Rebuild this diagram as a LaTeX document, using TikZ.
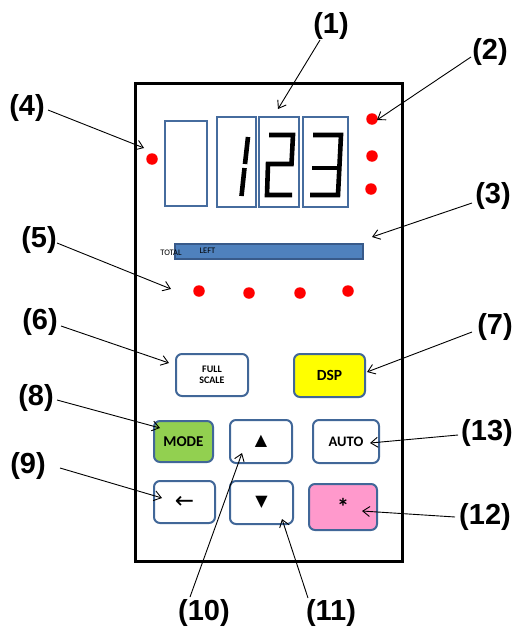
\documentclass[tikz,border=0pt]{standalone}
\usepackage{fontspec}
\setmainfont{Liberation Sans}
\newfontfamily\calfont{Carlito}
\newfontfamily\symfont{DejaVu Sans}
\usetikzlibrary{arrows.meta}
\definecolor{btnblue}{RGB}{65,103,152}
\definecolor{boxblue}{RGB}{70,108,158}
\definecolor{barfill}{RGB}{79,129,189}
\definecolor{barline}{RGB}{56,90,138}
\definecolor{btngreen}{RGB}{146,208,80}
\definecolor{btnyellow}{RGB}{255,255,0}
\definecolor{btnpink}{RGB}{255,153,204}
\definecolor{ledred}{RGB}{255,0,0}
\tikzset{
  lbl/.style={font=\fontsize{29}{29}\selectfont\bfseries, inner sep=0pt},
  conn/.style={line width=0.9pt, -{Straight Barb[length=7pt,width=10pt,line width=0.9pt]}},
  btn/.style={draw=btnblue, line width=2pt, rounded corners=6pt, inner sep=0pt, font=\calfont\bfseries},
  digbox/.style={draw=boxblue, line width=2.2pt, inner sep=0pt},
  led/.style={circle, fill=ledred, inner sep=0pt, minimum size=11.5pt},
  seg/.style={line width=4.6pt, line cap=butt, line join=miter},
  small/.style={font=\calfont\fontsize{8.5}{8.5}\selectfont, inner sep=0pt}
}
\begin{document}
\begin{tikzpicture}[x=1pt,y=-1pt]
\useasboundingbox (0,0) rectangle (518,629);
% panel
\draw[line width=3pt] (135,83) rectangle (402,561);
% digit boxes
\node[digbox, minimum width=42pt, minimum height=85pt] (d1) at (186,163.5) {};
\node[digbox, minimum width=39pt, minimum height=90pt] (d2) at (236.5,162) {};
\node[digbox, minimum width=40pt, minimum height=90pt] (d3) at (279,162) {};
\node[digbox, minimum width=45pt, minimum height=90pt] (d4) at (325.5,162) {};
% digits
\draw[seg] (248,137) -- (245,164);
\draw[seg] (244.5,168) -- (241.5,196);
\draw[seg] (269,135) -- (293,135) -- (291.5,164) -- (268,164) -- (267,195) -- (292,195);
\draw[seg] (313,135) -- (341,135) -- (338,195) -- (310,195);
\draw[seg] (312,168) -- (339,168);
% leds
\node[led] (ledL) at (152,159) {};
\node[led] (ledR1) at (372,119) {};
\node[led] (ledR2) at (372,156) {};
\node[led] (ledR3) at (371,189) {};
\node[led] (b1) at (199,291) {};
\node[led] (b2) at (249,293) {};
\node[led] (b3) at (300,293) {};
\node[led] (b4) at (348,291) {};
% bar
\node[draw=barline, fill=barfill, line width=1.8pt, minimum width=188pt, minimum height=15pt, inner sep=0pt] (bar) at (269,251.5) {};
\node[small] (total) at (171,252.5) {TOTAL};
\node[small] (left) at (207.5,251) {LEFT};
% buttons
\node[btn, minimum width=72pt, minimum height=42pt, align=center, font=\calfont\bfseries\fontsize{10}{10.5}\selectfont] (full) at (212,375) {FULL\\SCALE};
\node[btn, fill=btnyellow, minimum width=71pt, minimum height=43pt, font=\calfont\bfseries\fontsize{15.5}{15.5}\selectfont] (dsp) at (329.5,375.5) {DSP};
\node[btn, fill=btngreen, minimum width=59pt, minimum height=41pt, font=\calfont\bfseries\fontsize{15}{15}\selectfont] (mode) at (183.5,441.5) {MODE};
\node[btn, minimum width=62pt, minimum height=43pt, font=\symfont\fontsize{16}{16}\selectfont] (up) at (261,441.5) {▲};
\node[btn, minimum width=66pt, minimum height=43pt, font=\calfont\bfseries\fontsize{14.5}{14.5}\selectfont] (auto) at (346,441.5) {AUTO};
\node[btn, minimum width=61pt, minimum height=42pt, font=\symfont\fontsize{23}{23}\selectfont] (back) at (184.5,502) {←};
\node[btn, minimum width=63pt, minimum height=43pt, font=\symfont\fontsize{16}{16}\selectfont] (down) at (261.5,502.5) {▼};
\node[btn, fill=btnpink, minimum width=68pt, minimum height=46pt, font=\calfont\bfseries\fontsize{24}{24}\selectfont] (star) at (343,507) {*};
% labels
\node[lbl] (l1) at (331,26) {(1)};
\node[lbl] (l2) at (490,52) {(2)};
\node[lbl] (l3) at (493,196) {(3)};
\node[lbl] (l4) at (27,108) {(4)};
\node[lbl] (l5) at (39,240) {(5)};
\node[lbl] (l6) at (40,322) {(6)};
\node[lbl] (l7) at (495,327) {(7)};
\node[lbl] (l8) at (36,398) {(8)};
\node[lbl] (l9) at (28,466) {(9)};
\node[lbl] (l10) at (204,613) {(10)};
\node[lbl] (l11) at (331,613) {(11)};
\node[lbl] (l12) at (485,517) {(12)};
\node[lbl] (l13) at (487,433) {(13)};
% connector ends
\coordinate (s1) at (320,40);  \coordinate (t1) at (278,109);
\coordinate (s2) at (471,57);  \coordinate (t2) at (377,120);
\coordinate (s3) at (472,203); \coordinate (t3) at (372,237);
\coordinate (s4) at (48,110);  \coordinate (t4) at (144,148);
\coordinate (s5) at (57,243);  \coordinate (t5) at (171,289);
\coordinate (s6) at (61,326);  \coordinate (t6) at (169,363);
\coordinate (s7) at (472,332); \coordinate (t7) at (367,372);
\coordinate (s8) at (57,400);  \coordinate (t8) at (160,428);
\coordinate (s9) at (60,468);  \coordinate (t9) at (162,498);
\coordinate (s10) at (190,597); \coordinate (t10) at (242,453);
\coordinate (s11) at (308,598); \coordinate (t11) at (282,519);
\coordinate (s12) at (455,517); \coordinate (t12) at (362,511);
\coordinate (s13) at (458,435); \coordinate (t13) at (370,443);
\foreach \i in {1,...,13} {\draw[conn] (s\i) -- (t\i);}
\end{tikzpicture}
\end{document}
